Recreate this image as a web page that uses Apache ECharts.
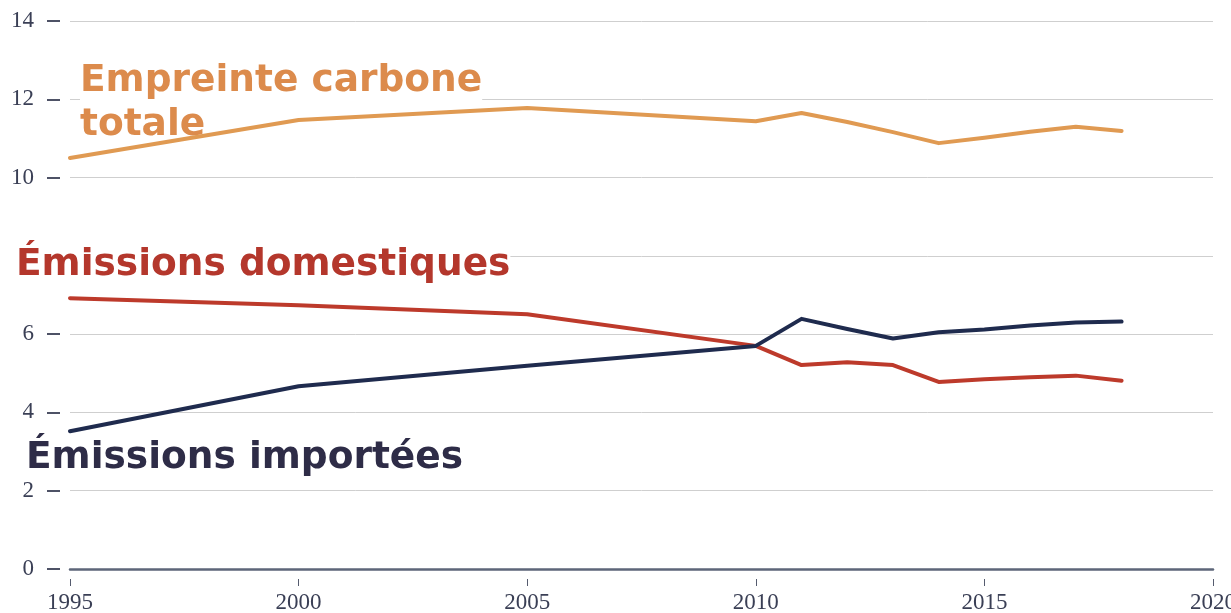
<!DOCTYPE html>
<html>
<head>
<meta charset="utf-8">
<script src="https://cdn.jsdelivr.net/npm/echarts@6/dist/echarts.min.js"></script>
<style>
html,body{margin:0;padding:0;background:#fff}
#chart{width:1231px;height:613px}
</style>
</head>
<body>
<div id="chart"></div>
<script>
// years and values (t CO2e per person)
var years=[1995,2000,2005,2010,2011,2012,2013,2014,2015,2016,2017,2018]
var totale=[10.50,11.47,11.78,11.44,11.65,11.42,11.16,10.88,11.02,11.17,11.30,11.19]
var domestiques=[6.92,6.74,6.51,5.70,5.21,5.28,5.21,4.78,4.85,4.90,4.94,4.81]
var importees=[3.52,4.67,5.19,5.70,6.39,6.13,5.89,6.05,6.12,6.22,6.30,6.32]
var yTicks=[0,2,4,6,8,10,12,14]
var xTicks=[1995,2000,2005,2010,2015,2020]

var pairs=function(vals){
    return years.map(function(y,i){return [y,vals[i]]})
}

var tickFont='"Liberation Serif", serif'
var labelFont='bold 37.5px "DejaVu Sans"'

var chart=echarts.init(document.getElementById('chart'))
chart.setOption({
    animation:false,
    grid:{left:70,right:18,top:21,bottom:44,outerBoundsMode:'none',containLabel:false},
    xAxis:[{
        type:'value',min:xTicks[0],max:xTicks[xTicks.length-1],interval:5,
        axisLine:{show:true,lineStyle:{color:'#5d6679',width:2.5}},
        axisTick:{show:false},axisLabel:{show:false},splitLine:{show:false}
    },{
        type:'value',min:xTicks[0],max:xTicks[xTicks.length-1],interval:5,
        position:'bottom',offset:10,
        axisLine:{show:false},
        axisTick:{show:true,length:7,lineStyle:{color:'#555b6e',width:1}},
        axisLabel:{margin:12,color:'#3a3f55',fontFamily:tickFont,fontSize:23,
            formatter:function(v){return String(v)}},
        splitLine:{show:false}
    }],
    yAxis:{
        type:'value',min:yTicks[0],max:yTicks[yTicks.length-1],interval:2,
        offset:10,
        axisLine:{show:false},
        axisTick:{show:true,length:13,lineStyle:{color:'#3a3f55',width:1.8}},
        axisLabel:{margin:26,color:'#3a3f55',fontFamily:tickFont,fontSize:23},
        splitLine:{show:true,lineStyle:{color:'#cfcfcf',width:1}}
    },
    series:[
        {type:'line',data:pairs(totale),showSymbol:false,
            lineStyle:{color:'#e09a52',width:4,cap:'round',join:'round'}},
        {type:'line',data:pairs(domestiques),showSymbol:false,
            lineStyle:{color:'#bd3a2b',width:4,cap:'round',join:'round'}},
        {type:'line',data:pairs(importees),showSymbol:false,
            lineStyle:{color:'#1f2b4e',width:4,cap:'round',join:'round'}}
    ],
    graphic:[
        {type:'text',left:80,top:62,z:1,style:{text:'Empreinte carbone',font:labelFont,fill:'#dc8b4c',backgroundColor:'#fff'}},
        {type:'text',left:80,top:106,z:1,style:{text:'totale',font:labelFont,fill:'#dc8b4c',backgroundColor:'#fff'}},
        {type:'text',left:16,top:246,z:1,style:{text:'Émissions domestiques',font:labelFont,fill:'#b4372c',backgroundColor:'#fff'}},
        {type:'text',left:26,top:439,z:1,style:{text:'Émissions importées',font:labelFont,fill:'#2e2c47',backgroundColor:'#fff'}}
    ]
})
</script>
</body>
</html>
